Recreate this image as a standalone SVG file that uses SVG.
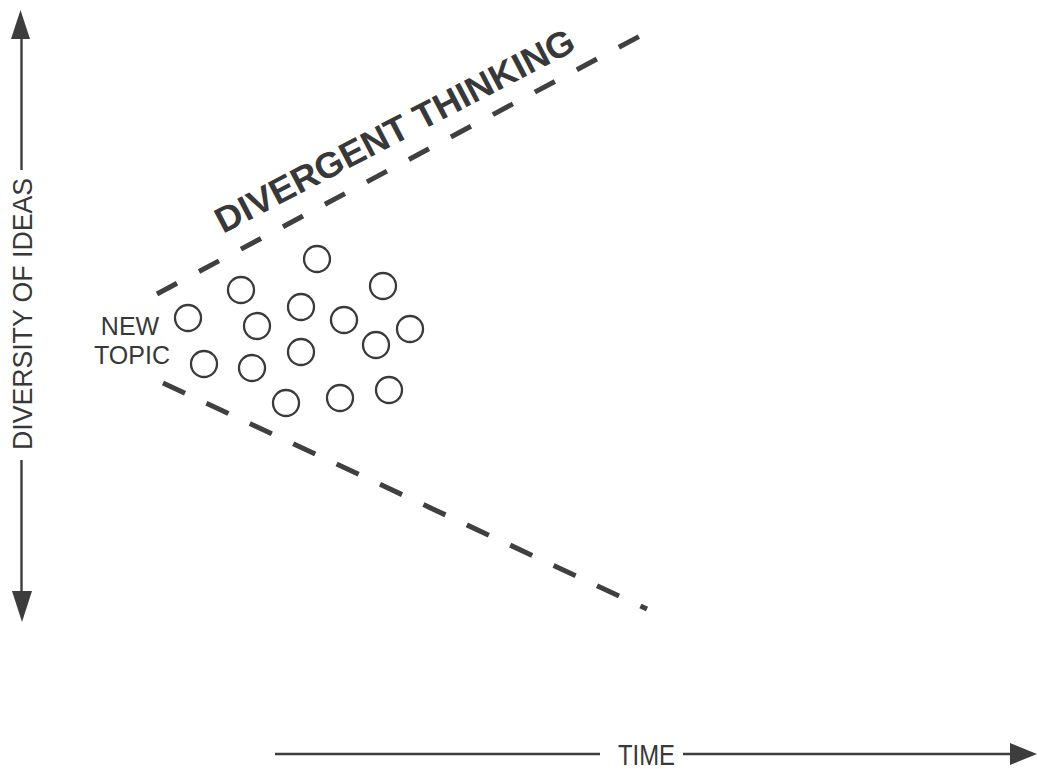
<svg xmlns="http://www.w3.org/2000/svg" width="1037" height="769" viewBox="0 0 1037 769">
<style>
.axis{stroke:#3d3d3d;stroke-width:2.4;fill:none}
.head{fill:#3d3d3d;stroke:none}
.dash{stroke:#404040;stroke-width:5;fill:none}
.idea{stroke:#3a3a3a;stroke-width:2.3;fill:none}
.lbl{font-family:"Liberation Sans",Arial,Helvetica,sans-serif;fill:#383838}
</style>
<rect width="1037" height="769" fill="#ffffff"/>
<g id="y-axis">
<line class="axis" x1="21.5" y1="32" x2="21.5" y2="170"/>
<line class="axis" x1="21.5" y1="460" x2="21.5" y2="598"/>
<polygon class="head" points="20.5,10 30,39 11,39"/>
<polygon class="head" points="22,622 32,591 12,591"/>
<text class="lbl" x="0" y="0" font-size="27" text-anchor="middle" textLength="272" lengthAdjust="spacingAndGlyphs" transform="translate(32,314) rotate(-90)">DIVERSITY OF IDEAS</text>
</g>
<g id="x-axis">
<line class="axis" x1="275" y1="754" x2="600" y2="754"/>
<line class="axis" x1="683" y1="754" x2="1015" y2="754"/>
<polygon class="head" points="1010,743 1037,754 1010,765"/>
<text class="lbl" x="618" y="765" font-size="30" textLength="57" lengthAdjust="spacingAndGlyphs">TIME</text>
</g>
<g id="connectors">
<line class="dash" x1="157" y1="294" x2="640" y2="36" stroke-dasharray="22.7 24.9"/>
<line class="dash" x1="163" y1="383" x2="647" y2="609" stroke-dasharray="24.3 23.6"/>
</g>
<g id="divergent-thinking">
<text class="lbl" x="0" y="0" font-size="36" font-weight="bold" textLength="400" lengthAdjust="spacingAndGlyphs" transform="translate(223,234) rotate(-27.5)">DIVERGENT THINKING</text>
</g>
<g id="new-topic">
<text class="lbl" x="130" y="335" font-size="25" text-anchor="middle">NEW</text>
<text class="lbl" x="132" y="364" font-size="25" text-anchor="middle">TOPIC</text>
</g>
<g id="ideas">
<circle class="idea" cx="317" cy="259" r="13"/>
<circle class="idea" cx="241" cy="290" r="13"/>
<circle class="idea" cx="383" cy="286" r="13"/>
<circle class="idea" cx="188" cy="318" r="13"/>
<circle class="idea" cx="301" cy="307" r="13"/>
<circle class="idea" cx="257" cy="326" r="13"/>
<circle class="idea" cx="344" cy="320" r="13"/>
<circle class="idea" cx="410" cy="329" r="13"/>
<circle class="idea" cx="376" cy="345" r="13"/>
<circle class="idea" cx="204" cy="364" r="13"/>
<circle class="idea" cx="252" cy="368" r="13"/>
<circle class="idea" cx="301" cy="352" r="13"/>
<circle class="idea" cx="286" cy="403" r="13"/>
<circle class="idea" cx="340" cy="398" r="13"/>
<circle class="idea" cx="389" cy="390" r="13"/>
</g>
</svg>
